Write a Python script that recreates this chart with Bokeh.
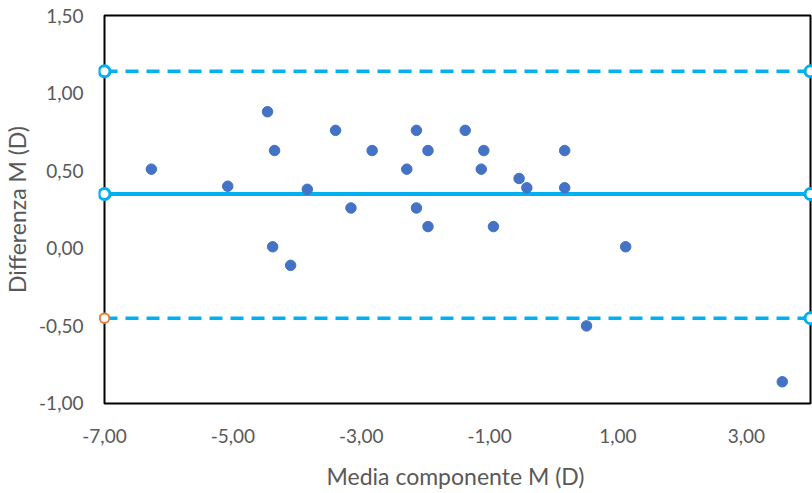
from bokeh.plotting import figure
from bokeh.models import Range1d, FixedTicker, ColumnDataSource
from bokeh.embed import file_html
from bokeh.resources import INLINE

# ---- data ----
media_m = [-6.27, -5.08, -4.46, -4.35, -4.38, -4.10, -3.84, -3.40, -3.16, -2.83,
           -2.29, -2.14, -2.14, -1.96, -1.96, -1.38, -1.13, -1.09, -0.94, -0.54,
           -0.42, 0.17, 0.17, 0.51, 1.12, 3.56]
diff_m = [0.51, 0.40, 0.88, 0.63, 0.01, -0.11, 0.38, 0.76, 0.26, 0.63,
          0.51, 0.76, 0.26, 0.63, 0.14, 0.76, 0.51, 0.63, 0.14, 0.45,
          0.39, 0.63, 0.39, -0.50, 0.01, -0.86]

x_limits = [-7.0, 4.0]
y_limits = [-1.0, 1.5]
mean_diff = 0.35
upper_loa = 1.14
lower_loa = -0.45

x_ticks = [-7, -5, -3, -1, 1, 3]
x_tick_labels = ["-7,00", "-5,00", "-3,00", "-1,00", "1,00", "3,00"]
y_ticks = [-1.0, -0.5, 0.0, 0.5, 1.0, 1.5]
y_tick_labels = ["-1,00", "-0,50", "0,00", "0,50", "1,00", "1,50"]

x_title = "Media componente M (D)"
y_title = "Differenza M (D)"

# ---- style ----
FONT = "Lato"
GREY = "#595959"
PT = "#4472C4"
LINE = "#00B0F0"
ORANGE = "#ED7D31"

pad_x = (0.0935, 0.031)
pad_y = 0.0129

p = figure(width=812, height=493, output_backend="svg", toolbar_location=None,
           x_range=Range1d(x_limits[0] - pad_x[0], x_limits[1] + pad_x[1]),
           y_range=Range1d(y_limits[0] - pad_y, y_limits[1] + pad_y),
           min_border_left=98, min_border_right=0, min_border_top=13,
           min_border_bottom=88)
p.outline_line_color = None
p.grid.visible = False
p.background_fill_color = "white"
p.border_fill_color = "white"

for ax in (p.xaxis[0], p.yaxis[0]):
    ax.axis_line_color = None
    ax.major_tick_line_color = None
    ax.minor_tick_line_color = None
    ax.major_tick_out = 0
    ax.major_tick_in = 0
    ax.major_label_text_font = FONT
    ax.major_label_text_color = GREY
    ax.major_label_text_font_size = "19px"
    ax.axis_label_text_font = FONT
    ax.axis_label_text_color = GREY
    ax.axis_label_text_font_size = "23px"
    ax.axis_label_text_font_style = "normal"

p.xaxis.ticker = FixedTicker(ticks=x_ticks)
p.xaxis.major_label_overrides = {t: l for t, l in zip(x_ticks, x_tick_labels)}
p.yaxis.ticker = FixedTicker(ticks=y_ticks)
p.yaxis.major_label_overrides = {t: l for t, l in zip(y_ticks, y_tick_labels)}
p.xaxis.axis_label = x_title
p.yaxis.axis_label = y_title
p.xaxis.major_label_standoff = 23
p.xaxis.axis_label_standoff = 16
p.yaxis.major_label_standoff = 15
p.yaxis.axis_label_standoff = 5

# plot-area border
p.quad(left=[x_limits[0]], right=[x_limits[1]], bottom=[y_limits[0]], top=[y_limits[1]],
       fill_color=None, line_color="black", line_width=2)

# reference lines
p.line(x_limits, [upper_loa, upper_loa], line_color=LINE, line_width=3.5, line_dash="13 8")
p.line(x_limits, [mean_diff, mean_diff], line_color=LINE, line_width=4)
p.line(x_limits, [lower_loa, lower_loa], line_color=LINE, line_width=3.5, line_dash="13 8")

# line-end markers
p.scatter(x_limits, [upper_loa, upper_loa], size=11, fill_color="white",
          line_color=LINE, line_width=3)
p.scatter(x_limits, [mean_diff, mean_diff], size=11, fill_color="white",
          line_color=LINE, line_width=3)
p.scatter([x_limits[1]], [lower_loa], size=11, fill_color="white",
          line_color=LINE, line_width=3)
p.scatter([x_limits[0]], [lower_loa], size=9.5, fill_color="white",
          line_color=ORANGE, line_width=2)

# data points
src = ColumnDataSource(dict(x=media_m, y=diff_m))
p.scatter("x", "y", source=src, size=10.5, fill_color=PT, line_color=PT)

open("out.html", "w").write(file_html(p, INLINE))
